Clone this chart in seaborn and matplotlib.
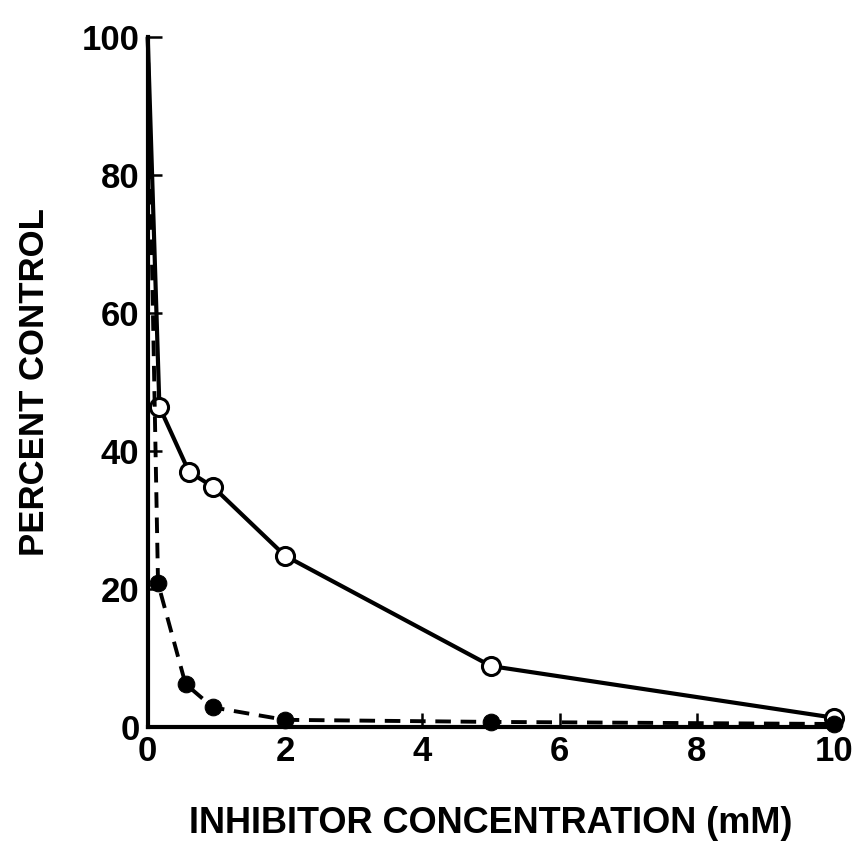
import numpy as np
import pandas as pd
import matplotlib
matplotlib.use('Agg')
import matplotlib.pyplot as plt
import seaborn as sns

# inhibitor concentration (mM) and percent of control
open_conc = [0, 0.17, 0.6, 0.95, 2, 5, 10]
open_pct = [100, 46.4, 37.0, 34.8, 24.8, 8.8, 1.3]
filled_conc = [0, 0.15, 0.55, 0.95, 2, 5, 10]
filled_pct = [100, 20.8, 6.2, 2.8, 1.0, 0.7, 0.4]
x_ticks = [0, 2, 4, 6, 8, 10]
y_ticks = [0, 20, 40, 60, 80, 100]

sns.set_style('ticks')
plt.rcParams['font.family'] = ['Liberation Sans', 'DejaVu Sans']
plt.rcParams['font.weight'] = 'bold'
plt.rcParams['text.color'] = 'black'
plt.rcParams['axes.labelcolor'] = 'black'
plt.rcParams['xtick.color'] = 'black'
plt.rcParams['ytick.color'] = 'black'
plt.rcParams['axes.edgecolor'] = 'black'

fig = plt.figure(figsize=(8.54, 8.48), dpi=100)
ax = fig.add_axes([0.173, 0.143, 0.804, 0.813])

df_open = pd.DataFrame({'conc': open_conc, 'pct': open_pct})
df_filled = pd.DataFrame({'conc': filled_conc, 'pct': filled_pct})

# no marker drawn at the 0 mM control point
sns.lineplot(data=df_open, x='conc', y='pct', ax=ax, color='black', lw=3,
             marker='o', markersize=13, markerfacecolor='white',
             markeredgecolor='black', markeredgewidth=2.2,
             markevery=list(range(1, len(open_conc))), zorder=3, clip_on=False)
sns.lineplot(data=df_filled, x='conc', y='pct', ax=ax, color='black', lw=2.8,
             linestyle=(0, (4, 2.5)), marker='o', markersize=12,
             markerfacecolor='black', markeredgecolor='black',
             markevery=list(range(1, len(filled_conc))), zorder=4, clip_on=False)

ax.set_xlim(0, 10)
ax.set_ylim(0, 100)
ax.set_xticks(x_ticks)
ax.set_yticks(y_ticks)
ax.tick_params(direction='in', length=10, width=1.8, labelsize=25, pad=6)
for lab in ax.get_xticklabels() + ax.get_yticklabels():
    lab.set_fontweight('bold')
sns.despine(ax=ax)
ax.spines['left'].set_linewidth(3)
ax.spines['bottom'].set_linewidth(3)

ax.set_xlabel('INHIBITOR CONCENTRATION (mM)', fontsize=26, fontweight='bold', labelpad=27)
ax.set_ylabel('PERCENT CONTROL', fontsize=25, fontweight='bold', labelpad=22)

fig.savefig('out.png', dpi=100)
